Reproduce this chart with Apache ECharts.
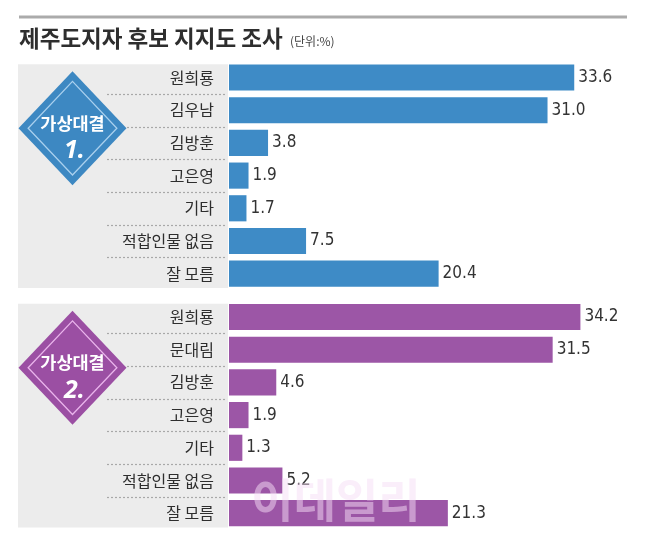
<!DOCTYPE html>
<html><head><meta charset="utf-8">
<script src="https://cdn.jsdelivr.net/npm/echarts@6/dist/echarts.min.js"></script>
<style>html,body{margin:0;padding:0;background:#fff}#c{width:670px;height:541px}</style>
</head><body><div id="c"></div>
<script>
const categories1 = ['원희룡','김우남','김방훈','고은영','기타','적합인물 없음','잘 모름'];
const values1 = [33.6, 31.0, 3.8, 1.9, 1.7, 7.5, 20.4];
const categories2 = ['원희룡','문대림','김방훈','고은영','기타','적합인물 없음','잘 모름'];
const values2 = [34.2, 31.5, 4.6, 1.9, 1.3, 5.2, 21.3];
const panelTitles = ['가상대결', '가상대결'];
const panelNums = ['1.', '2.'];
const chartTitle = '제주도지자 후보 지지도 조사';
const unitText = '(단위:%)';

const BLUE = '#3e8bc6', PURPLE = '#9c56a6';
const GL = 229, GW = 411, GH = 228.8;
const tops = [61.2, 300.7];
const colors = [BLUE, PURPLE];
const diamondFill = ['#3d88c2', '#9b4fa3'];
const diamondLine = ['#a9d0ee', '#eab4ec'];
const NUMFONT = '"DejaVu Sans","Liberation Sans",sans-serif';
const KFONT = '"Noto Sans CJK KR","Noto Sans",sans-serif';

const chart = echarts.init(document.getElementById('c'), null, {renderer: 'canvas'});

const grids = [], xAxes = [], yAxes = [], series = [];
[[categories1, values1], [categories2, values2]].forEach(([cats, vals], i) => {
  grids.push({left: GL, top: tops[i], width: GW, height: GH, containLabel: false});
  xAxes.push({type: 'value', gridIndex: i, min: 0, max: 40, show: false});
  yAxes.push({type: 'category', gridIndex: i, data: cats, inverse: true,
    axisLine: {show: false}, axisTick: {show: false}, splitLine: {show: false},
    axisLabel: {fontFamily: KFONT, fontSize: 16, color: '#2e2e2e', margin: 15}});
  series.push({type: 'bar', xAxisIndex: i, yAxisIndex: i, data: vals,
    barCategoryGap: '20%', itemStyle: {color: colors[i]}, z: 3,
    label: {show: true, position: 'right', distance: 4, color: '#333',
      fontStyle: 'condensed', fontFamily: NUMFONT, fontSize: 17, formatter: p => p.value.toFixed(1)}});
  series.push({type: 'custom', xAxisIndex: i, yAxisIndex: i, clip: false, silent: true, z: 2,
    data: cats.slice(1).map((c, k) => [0, k + 1]),
    renderItem: (params, api) => {
      const c = api.coord([0, api.value(1)]);
      const band = api.size([0, 1])[1];
      const y = Math.round(c[1] - band / 2) + 0.5;
      return {type: 'line', shape: {x1: c[0] - 122, y1: y, x2: c[0] - 3, y2: y},
        style: {stroke: '#a8a8a8', lineWidth: 1.2, lineDash: [2, 2]}};
    }});
});

const graphic = [];
graphic.push({type: 'line', shape: {x1: 19, y1: 17, x2: 627, y2: 17}, style: {stroke: '#ababab', lineWidth: 3}, z: 0});
graphic.push({type: 'text', x: 19, y: 38, style: {text: chartTitle, fill: '#2e2e2e',
  font: 'bold 22.5px ' + KFONT, textAlign: 'left', textVerticalAlign: 'middle', align: 'left', verticalAlign: 'middle'}});
graphic.push({type: 'text', x: 290, y: 41, style: {text: unitText, fill: '#444',
  font: '12px ' + KFONT, textAlign: 'left', textVerticalAlign: 'middle', align: 'left', verticalAlign: 'middle'}});

[0, 1].forEach(i => {
  const t = tops[i];
  graphic.push({type: 'rect', z: -10, shape: {x: 18, y: t + 3, width: 210, height: GH - 5}, style: {fill: '#ececec'}});
  const cx = 72.5, cy = t + 67, hw = 54, hh = 57;
  graphic.push({type: 'polygon', z: 5, shape: {points: [[cx, cy - hh], [cx + hw, cy], [cx, cy + hh], [cx - hw, cy]]}, style: {fill: diamondFill[i]}});
  const ins = 7;
  const d = Math.hypot(hw, hh);
  const ihw = hw - ins * d / hh;
  const ihh = hh - ins * d / hw;
  graphic.push({type: 'polygon', z: 6, shape: {points: [[cx, cy - ihh], [cx + ihw, cy], [cx, cy + ihh], [cx - ihw, cy]]},
    style: {fill: 'none', stroke: diamondLine[i], lineWidth: 1.3}});
  graphic.push({type: 'text', z: 7, x: cx, y: cy - 5, style: {text: panelTitles[i], fill: '#fff',
    font: 'bold 17.5px ' + KFONT, textAlign: 'center', textVerticalAlign: 'middle', align: 'center', verticalAlign: 'middle'}});
  graphic.push({type: 'text', z: 7, x: cx + 2, y: cy + 23, style: {text: panelNums[i], fill: '#fff',
    font: 'italic bold 25px "Noto Sans",sans-serif', textAlign: 'center', textVerticalAlign: 'middle', align: 'center', verticalAlign: 'middle'}});
});

graphic.push({type: 'text', z: 100, x: 336, y: 500, style: {text: '이데일리', fill: 'rgba(246,222,246,0.5)',
  font: 'bold 46px ' + KFONT, textAlign: 'center', textVerticalAlign: 'middle', align: 'center', verticalAlign: 'middle'}});

chart.setOption({
  animation: false,
  backgroundColor: '#fff',
  grid: grids, xAxis: xAxes, yAxis: yAxes, series: series,
  graphic: {elements: graphic}
});
</script></body></html>
